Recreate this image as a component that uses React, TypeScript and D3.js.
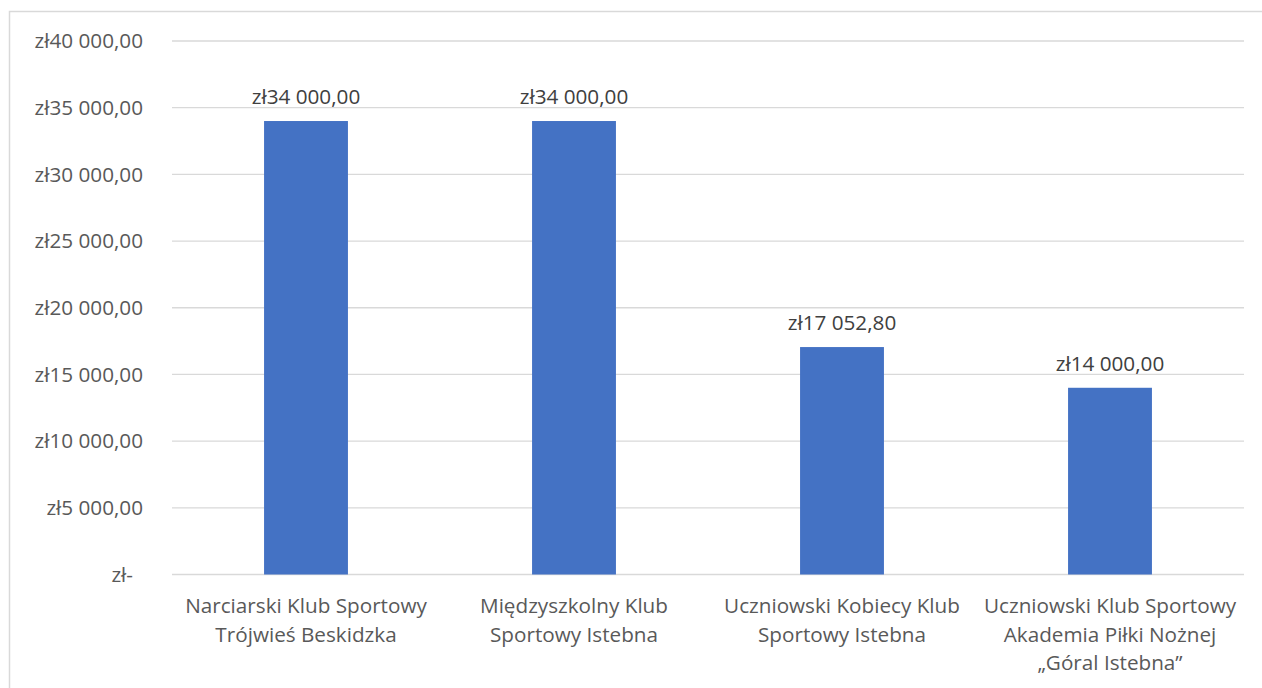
import React from "react";
import * as d3 from "d3";

const categories: string[][] = [
  ["Narciarski Klub Sportowy", "Trójwieś Beskidzka"],
  ["Międzyszkolny Klub", "Sportowy Istebna"],
  ["Uczniowski Kobiecy Klub", "Sportowy Istebna"],
  ["Uczniowski Klub Sportowy", "Akademia Piłki Nożnej", "„Góral Istebna”"],
];
const values: number[] = [34000, 34000, 17052.8, 14000];
const yTicks: number[] = [0, 5000, 10000, 15000, 20000, 25000, 30000, 35000, 40000];

const W = 1262;
const H = 688;
const FONT = "'Open Sans', sans-serif";
const TEXT = "#595959";
const FS = 20.7;

const locale = d3.formatLocale({
  decimal: ",",
  thousands: "\u00a0",
  grouping: [3],
  currency: ["zł", ""],
});
const fmt = locale.format(",.2f");
const money = (v: number) => (v === 0 ? "zł-" : "zł" + fmt(v));

export default function App() {
  const left = 172;
  const right = 1244;
  const top = 41;
  const bottom = 574.5;

  const x = d3
    .scaleBand<number>()
    .domain(values.map((_, i) => i))
    .range([left, right])
    .paddingInner(0.687)
    .paddingOuter(0.3435);
  const y = d3.scaleLinear().domain([0, 40000]).range([bottom, top]);

  return (
    <svg
      width={W}
      height={H}
      style={{ position: "absolute", left: 0, top: 0, background: "#fff" }}
      fontFamily={FONT}
    >
      <rect x={9.5} y={11.5} width={1400} height={800} fill="#fff" stroke="#d9d9d9" strokeWidth={1.5} />
      {yTicks.map((t) => (
        <g key={t}>
          <line x1={left} x2={right} y1={y(t)} y2={y(t)} stroke="#d9d9d9" strokeWidth={1.3} />
          <text
            x={t === 0 ? 133 : 143}
            y={y(t)}
            dy="0.35em"
            textAnchor="end"
            fontSize={FS}
            fill={TEXT}
          >
            {money(t)}
          </text>
        </g>
      ))}
      {values.map((v, i) => (
        <g key={i}>
          <rect
            x={x(i)!}
            y={y(v)}
            width={x.bandwidth()}
            height={y(0) - y(v)}
            fill="#4472c4"
          />
          <text
            x={x(i)! + x.bandwidth() / 2}
            y={y(v) - 17}
            textAnchor="middle"
            fontSize={FS}
            fill="#404040"
          >
            {money(v)}
          </text>
          {categories[i].map((line, j) => (
            <text
              key={j}
              x={x(i)! + x.bandwidth() / 2}
              y={613 + j * 28.5}
              textAnchor="middle"
              fontSize={FS}
              fill={TEXT}
            >
              {line}
            </text>
          ))}
        </g>
      ))}
    </svg>
  );
}
